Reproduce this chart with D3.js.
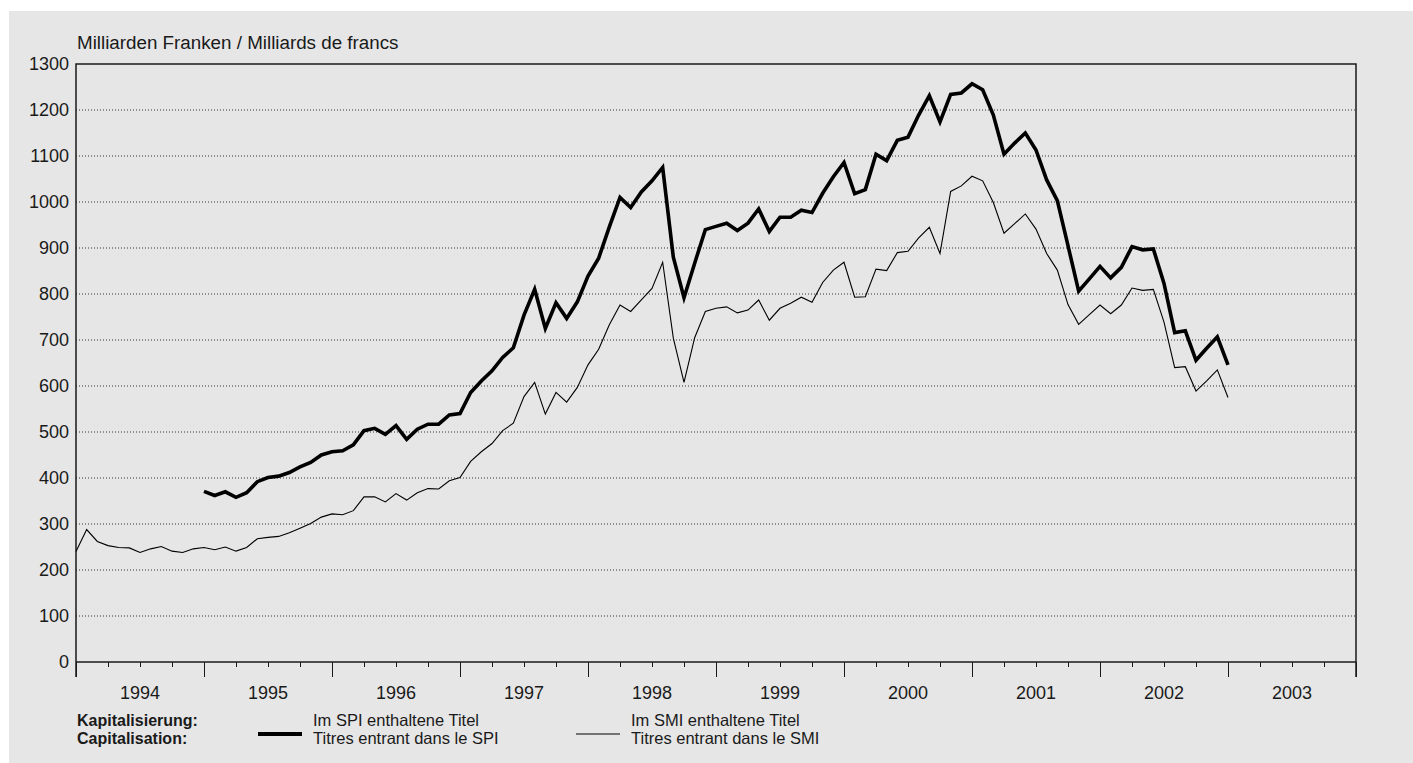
<!DOCTYPE html>
<html>
<head>
<meta charset="utf-8">
<script src="https://cdn.jsdelivr.net/npm/d3@7"></script>
<style>
  body { margin: 0; background: #ffffff; }
  text { font-family: "Liberation Sans", Arial, sans-serif; fill: #1a1a1a; }
</style>
</head>
<body>
<svg id="chart" width="1413" height="763"></svg>
<script>
//year labels along the bottom
const years = ["1994","1995","1996","1997","1998","1999","2000","2001","2002","2003"];
//y tick values
const yTicks = [0,100,200,300,400,500,600,700,800,900,1000,1100,1200,1300];
//month of first value (months since jan 1994)
const smiStart = 0;
const spiStart = 12;
//capitalisation of titles in the SMI, monthly from jan 1994
const smiValues = [240,288,262,253,249,248,238,246,251,241,238,246,
    249,244,250,241,249,268,271,273,281,291,301,315,
    322,320,329,359,359,348,366,352,368,377,376,394,
    401,436,457,475,503,519,577,608,539,586,565,597,
    646,680,733,776,762,787,812,869,704,608,705,762,
    769,772,759,765,787,743,769,780,793,782,825,852,
    869,793,794,854,851,890,893,922,945,888,1023,1035,
    1056,1046,999,932,953,974,941,888,852,777,734,755,
    776,757,776,813,808,810,739,640,642,589,611,635,
    575];
//capitalisation of titles in the SPI, monthly from jan 1995
const spiValues = [371,362,370,358,368,392,401,404,412,424,434,450,
    457,459,472,503,508,495,514,484,506,517,517,537,
    540,586,611,633,662,683,754,810,725,781,747,783,
    839,878,946,1010,988,1022,1046,1075,880,792,867,940,
    947,954,938,954,985,936,967,967,982,977,1019,1055,
    1086,1018,1027,1104,1090,1134,1141,1189,1231,1174,1234,1237,
    1257,1244,1189,1104,1128,1150,1113,1048,1003,905,806,833,
    860,835,858,903,896,898,823,716,720,656,682,707,
    646];

const svg = d3.select("#chart");

//gray panel behind everything
svg.append("rect")
    .attr("x", 9)
    .attr("y", 11)
    .attr("width", 1404)
    .attr("height", 752)
    .style("fill", "#e6e6e6");

const x = d3.scaleLinear().domain([0, 120]).range([76, 1356]);
const y = d3.scaleLinear().domain([0, 1300]).range([662, 64]);

//dotted grid lines
svg.append("g")
    .selectAll("line")
    .data(yTicks.filter(d => d > 0 && d < 1300))
    .enter()
    .append("line")
    .attr("x1", x(0))
    .attr("x2", x(120))
    .attr("y1", d => y(d))
    .attr("y2", d => y(d))
    .style("stroke", "#333")
    .style("stroke-width", 1)
    .style("stroke-dasharray", "1,2");

//y axis with labels
const yAxis = svg.append("g")
    .attr("transform", "translate(" + x(0) + ",0)")
    .call(d3.axisLeft(y).tickValues(yTicks).tickSize(0).tickPadding(7).tickFormat(d3.format("d")));
yAxis.select(".domain").remove();
yAxis.selectAll("text")
    .style("font-size", "18px")
    .style("font-family", "Liberation Sans, Arial, sans-serif")
    .style("fill", "#1a1a1a");

//quarter ticks
const minorAxis = svg.append("g")
    .attr("transform", "translate(0," + y(0) + ")")
    .call(d3.axisBottom(x).tickValues(d3.range(0, 121, 3)).tickSize(5).tickFormat(""));
minorAxis.select(".domain").remove();
minorAxis.selectAll("line").style("stroke", "#1a1a1a");

//year ticks
const majorAxis = svg.append("g")
    .attr("transform", "translate(0," + y(0) + ")")
    .call(d3.axisBottom(x).tickValues(d3.range(0, 121, 12)).tickSize(15).tickFormat(""));
majorAxis.select(".domain").remove();
majorAxis.selectAll("line").style("stroke", "#1a1a1a");

//frame: left, top, right and bottom
svg.append("path")
    .attr("d", "M" + x(0) + "," + (y(0) + 15) + "V" + y(1300) + "H" + x(120) + "V" + (y(0) + 15))
    .style("fill", "none")
    .style("stroke", "#1a1a1a")
    .style("stroke-width", 1.5);
svg.append("line")
    .attr("x1", x(0))
    .attr("x2", x(120))
    .attr("y1", y(0))
    .attr("y2", y(0))
    .style("stroke", "#1a1a1a")
    .style("stroke-width", 1.5);

//year labels in the middle of each year
svg.append("g")
    .selectAll("text")
    .data(years)
    .enter()
    .append("text")
    .attr("x", (d, i) => x(i * 12 + 6))
    .attr("y", 699)
    .attr("text-anchor", "middle")
    .style("font-size", "18px")
    .text(d => d);

//unit title
svg.append("text")
    .attr("x", 77)
    .attr("y", 49)
    .style("font-size", "18.8px")
    .text("Milliarden Franken / Milliards de francs");

//series lines
const line = d3.line()
    .x(d => x(d.m))
    .y(d => y(d.v));

const smiData = smiValues.map((v, i) => ({m: smiStart + i, v: v}));
const spiData = spiValues.map((v, i) => ({m: spiStart + i, v: v}));

svg.append("path")
    .datum(smiData)
    .attr("d", line)
    .style("fill", "none")
    .style("stroke", "#000")
    .style("stroke-width", 1.1)
    .style("stroke-linejoin", "miter");

svg.append("path")
    .datum(spiData)
    .attr("d", line)
    .style("fill", "none")
    .style("stroke", "#000")
    .style("stroke-width", 3.6)
    .style("stroke-linejoin", "miter");

//legend
const legend = svg.append("g");
legend.append("text")
    .attr("x", 77)
    .attr("y", 726)
    .style("font-size", "16px")
    .style("font-weight", "bold")
    .text("Kapitalisierung:");
legend.append("text")
    .attr("x", 77)
    .attr("y", 744)
    .style("font-size", "16px")
    .style("font-weight", "bold")
    .text("Capitalisation:");

const legendItems = [
    {x: 258, w: 3.8, l1: "Im SPI enthaltene Titel", l2: "Titres entrant dans le SPI"},
    {x: 576, w: 1.1, l1: "Im SMI enthaltene Titel", l2: "Titres entrant dans le SMI"}
];
for (let item of legendItems) {
    legend.append("line")
        .attr("x1", item.x)
        .attr("x2", item.x + 44)
        .attr("y1", 734)
        .attr("y2", 734)
        .style("stroke", "#000")
        .style("stroke-width", item.w);
    legend.append("text")
        .attr("x", item.x + 55)
        .attr("y", 726)
        .style("font-size", "16.5px")
        .text(item.l1);
    legend.append("text")
        .attr("x", item.x + 55)
        .attr("y", 744)
        .style("font-size", "16.5px")
        .text(item.l2);
}
</script>
</body>
</html>
